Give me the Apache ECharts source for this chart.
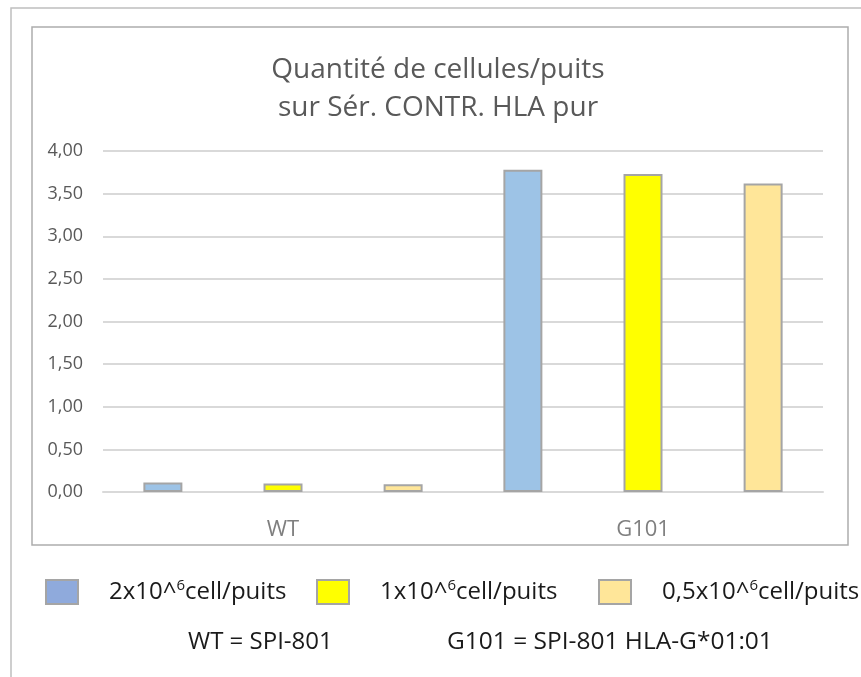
<!DOCTYPE html>
<html>
<head>
<meta charset="utf-8">
<script src="https://cdn.jsdelivr.net/npm/echarts@6/dist/echarts.min.js"></script>
<style>
  html, body { margin: 0; padding: 0; background: #fff; }
  #chart { width: 861px; height: 677px; }
</style>
</head>
<body>
<div id="chart"></div>
<script>
// data
const categories = ['WT', 'G101']
const seriesNames = ['2x10^6cell/puits', '1x10^6cell/puits', '0,5x10^6cell/puits']
const serie2M = [0.11, 3.78]
const serie1M = [0.10, 3.73]
const serie05M = [0.09, 3.62]
const yTicks = { min: 0, max: 4, interval: 0.5 }
const footnotes = ['WT = SPI-801', 'G101 = SPI-801 HLA-G*01:01']

const FONT = '"Open Sans", "Noto Sans", sans-serif'
const barColors = ['#9DC3E6', '#FFFF00', '#FFE699']
const legendColors = ['#8FAADC', '#FFFF00', '#FFE699']
const legendLeft = [45, 316, 598]

const chart = echarts.init(document.getElementById('chart'))

function legendLabel(name) {
  // "2x10^6cell/puits" -> exposant 6
  const parts = name.split('^')
  return '{t|' + parts[0] + '^}{sup|' + parts[1].charAt(0) + '}{t|' + parts[1].slice(1) + '}'
}

const seriesData = [serie2M, serie1M, serie05M]

chart.setOption({
  animation: false,
  title: {
    text: 'Quantité de cellules/puits\nsur Sér. CONTR. HLA pur',
    left: 433,
    top: 46,
    textAlign: 'center',
    textStyle: {
      fontFamily: FONT,
      fontSize: 28,
      fontWeight: 'normal',
      color: '#595959',
      lineHeight: 38
    }
  },
  graphic: [
    {
      type: 'rect',
      shape: { x: 11, y: 8, width: 900, height: 700 },
      style: { fill: 'none', stroke: '#BFBFBF', lineWidth: 1.5 },
      silent: true
    },
    {
      type: 'rect',
      shape: { x: 32, y: 27, width: 816, height: 518 },
      style: { fill: 'none', stroke: '#ADADAD', lineWidth: 1.5 },
      silent: true
    },
    {
      type: 'text',
      left: 188,
      top: 630,
      style: { text: footnotes[0], font: '24px ' + FONT, fill: '#1a1a1a' }
    },
    {
      type: 'text',
      left: 447,
      top: 630,
      style: { text: footnotes[1], font: '24.5px ' + FONT, fill: '#1a1a1a' }
    }
  ],
  legend: seriesNames.map((name, i) => ({
    left: legendLeft[i],
    top: 578,
    padding: 0,
    itemWidth: 32,
    itemHeight: 24,
    icon: 'rect',
    data: [{
      name: name,
      itemStyle: { color: legendColors[i], borderColor: '#A5A5A5', borderWidth: 2 }
    }],
    formatter: legendLabel,
    textStyle: {
      padding: [0, 0, 0, 26],
      rich: {
        t: { fontFamily: FONT, fontSize: 24, color: '#1a1a1a' },
        sup: { fontFamily: FONT, fontSize: 15, color: '#1a1a1a', padding: [0, 0, 13, 0] }
      }
    }
  })),
  grid: {
    left: 103,
    right: 38,
    top: 151,
    bottom: 185
  },
  xAxis: {
    type: 'category',
    data: categories,
    axisLine: { lineStyle: { color: '#D9D9D9', width: 2 } },
    axisTick: { show: false },
    axisLabel: {
      margin: 27,
      fontFamily: FONT,
      fontSize: 22,
      color: '#7F7F7F'
    }
  },
  yAxis: {
    type: 'value',
    min: yTicks.min,
    max: yTicks.max,
    interval: yTicks.interval,
    axisLine: { show: false },
    axisTick: { show: false },
    axisLabel: {
      margin: 20,
      fontFamily: FONT,
      fontSize: 18,
      color: '#595959',
      formatter: v => v.toFixed(2).replace('.', ',')
    },
    splitLine: { lineStyle: { color: '#D9D9D9', width: 2 } }
  },
  series: seriesNames.map((name, i) => ({
    name: name,
    type: 'bar',
    data: seriesData[i],
    barWidth: 39,
    barGap: '208%',
    itemStyle: {
      color: barColors[i],
      borderColor: '#A5A5A5',
      borderWidth: 2
    }
  }))
})
</script>
</body>
</html>
